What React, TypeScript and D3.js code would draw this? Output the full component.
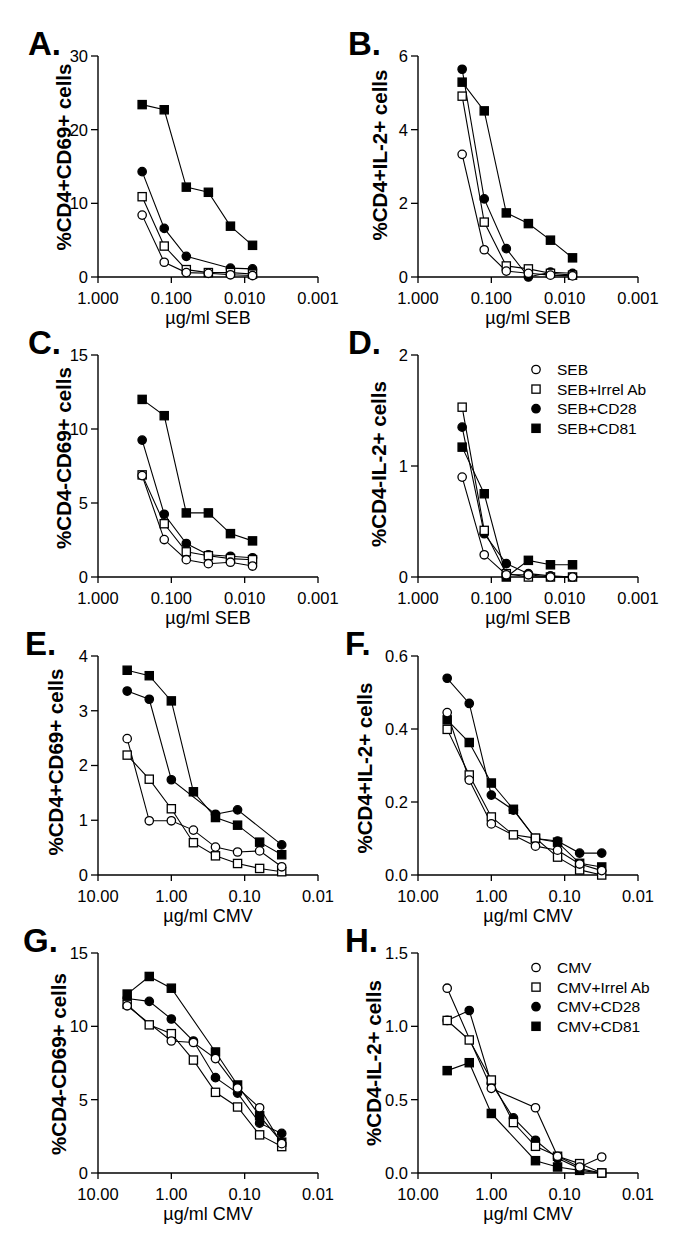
import React from "react";
import * as d3 from "d3";

// ---------- doses & ticks ----------
const SEB_DOSES = [0.25, 0.125, 0.0625, 0.03125, 0.015625, 0.0078125];
const CMV_DOSES = [4, 2, 1, 0.5, 0.25, 0.125, 0.0625, 0.03125];
const SEB_TICKS = [1, 0.1, 0.01, 0.001];
const SEB_TICK_LABELS = ["1.000", "0.100", "0.010", "0.001"];
const CMV_TICKS = [10, 1, 0.1, 0.01];
const CMV_TICK_LABELS = ["10.00", "1.00", "0.10", "0.01"];
const SEB_LEGEND = ["SEB", "SEB+Irrel Ab", "SEB+CD28", "SEB+CD81"];
const CMV_LEGEND = ["CMV", "CMV+Irrel Ab", "CMV+CD28", "CMV+CD81"];

// ---------- series values (order: base, Irrel Ab, CD28, CD81) ----------
const A_BASE = [8.4, 2.0, 0.6, 0.5, 0.3, 0.2];
const A_IRREL = [10.9, 4.2, 1.0, 0.6, 0.6, 0.4];
const A_CD28 = [14.3, 6.6, 2.8, null, 1.2, 1.1];
const A_CD81 = [23.4, 22.7, 12.2, 11.5, 6.9, 4.3];

const B_BASE = [3.33, 0.74, 0.16, 0.1, 0.05, 0.03];
const B_IRREL = [4.91, 1.49, 0.3, 0.22, 0.1, 0.05];
const B_CD28 = [5.64, 2.12, 0.77, 0.0, 0.13, 0.1];
const B_CD81 = [5.29, 4.51, 1.74, 1.45, 1.0, 0.52];

const C_BASE = [6.85, 2.53, 1.17, 0.9, 1.0, 0.74];
const C_IRREL = [6.9, 3.6, 1.7, 1.44, 1.24, 1.17];
const C_CD28 = [9.25, 4.24, 2.26, 1.5, 1.4, 1.3];
const C_CD81 = [12.0, 10.9, 4.33, 4.33, 2.93, 2.44];

const D_BASE = [0.9, 0.2, 0.02, 0.02, 0.0, 0.0];
const D_IRREL = [1.53, 0.42, 0.03, 0.0, 0.0, 0.0];
const D_CD28 = [1.35, 0.39, 0.12, 0.03, 0.01, 0.0];
const D_CD81 = [1.17, 0.75, 0.0, 0.15, 0.11, 0.11];

const E_BASE = [2.49, 0.99, 0.99, 0.82, 0.51, 0.42, 0.44, 0.15];
const E_IRREL = [2.19, 1.75, 1.21, 0.59, 0.35, 0.21, 0.12, 0.06];
const E_CD28 = [3.36, 3.21, 1.74, null, 1.11, 1.19, null, 0.55];
const E_CD81 = [3.74, 3.64, 3.18, 1.52, 1.05, 0.91, 0.6, 0.37];

const F_BASE = [0.445, 0.26, 0.14, null, 0.079, 0.068, 0.03, 0.012];
const F_IRREL = [0.399, 0.274, 0.159, 0.11, 0.101, 0.049, 0.014, 0.0];
const F_CD28 = [0.539, 0.47, 0.219, 0.178, 0.1, 0.093, 0.06, 0.06];
const F_CD81 = [0.425, 0.363, 0.252, 0.18, 0.1, 0.09, 0.032, 0.022];

const G_BASE = [11.4, null, 9.0, 8.9, 7.8, 5.8, 4.45, 2.0];
const G_IRREL = [11.5, 10.1, 9.5, 7.7, 5.5, 4.5, 2.6, 1.8];
const G_CD28 = [11.9, 11.7, 10.5, 9.0, 6.5, 5.45, 3.4, 2.7];
const G_CD81 = [12.2, 13.4, 12.6, null, 8.25, 6.0, 3.9, 2.1];

const H_BASE = [1.26, null, 0.577, null, 0.445, 0.114, 0.041, 0.109];
const H_IRREL = [1.04, 0.907, 0.634, 0.344, 0.182, 0.114, 0.064, 0.0];
const H_CD28 = [1.04, 1.108, 0.61, 0.376, 0.223, 0.1, 0.03, 0.0];
const H_CD81 = [0.698, 0.752, 0.406, null, 0.084, 0.041, 0.018, 0.0];

const FONT = "Arial, 'Liberation Sans', Helvetica, sans-serif";

type PanelDef = {
  letter: string;
  left: number;
  top: number;
  bottom: number;
  kind: "SEB" | "CMV";
  yMax: number;
  yTicks: number[];
  yFmt: (v: number) => string;
  yTitle: string;
  series: (number | null)[][];
  titleX: number;
  titleCY: number;
  letterX: number;
  legend?: boolean;
};

const f0 = d3.format("d");
const f1 = d3.format(".1f");

const PANELS: PanelDef[] = [
  { letter: "A.", left: 98, top: 56, bottom: 277, kind: "SEB", yMax: 30, yTicks: [0, 10, 20, 30], yFmt: f0, yTitle: "%CD4+CD69+ cells", series: [A_BASE, A_IRREL, A_CD28, A_CD81], titleX: 71, titleCY: 157, letterX: 28 },
  { letter: "B.", left: 418, top: 56, bottom: 277, kind: "SEB", yMax: 6, yTicks: [0, 2, 4, 6], yFmt: f0, yTitle: "%CD4+IL-2+ cells", series: [B_BASE, B_IRREL, B_CD28, B_CD81], titleX: 387, titleCY: 155, letterX: 348 },
  { letter: "C.", left: 98, top: 355, bottom: 577, kind: "SEB", yMax: 15, yTicks: [0, 5, 10, 15], yFmt: f0, yTitle: "%CD4-CD69+ cells", series: [C_BASE, C_IRREL, C_CD28, C_CD81], titleX: 71, titleCY: 458, letterX: 28 },
  { letter: "D.", left: 418, top: 355, bottom: 577, kind: "SEB", yMax: 2, yTicks: [0, 1, 2], yFmt: f0, yTitle: "%CD4-IL-2+ cells", series: [D_BASE, D_IRREL, D_CD28, D_CD81], titleX: 386, titleCY: 464, letterX: 348, legend: true },
  { letter: "E.", left: 98, top: 656, bottom: 875, kind: "CMV", yMax: 4, yTicks: [0, 1, 2, 3, 4], yFmt: f0, yTitle: "%CD4+CD69+ cells", series: [E_BASE, E_IRREL, E_CD28, E_CD81], titleX: 63, titleCY: 762, letterX: 25 },
  { letter: "F.", left: 418, top: 656, bottom: 875, kind: "CMV", yMax: 0.6, yTicks: [0, 0.2, 0.4, 0.6], yFmt: f1, yTitle: "%CD4+IL-2+ cells", series: [F_BASE, F_IRREL, F_CD28, F_CD81], titleX: 372, titleCY: 768, letterX: 345 },
  { letter: "G.", left: 98, top: 953, bottom: 1173, kind: "CMV", yMax: 15, yTicks: [0, 5, 10, 15], yFmt: f0, yTitle: "%CD4-CD69+ cells", series: [G_BASE, G_IRREL, G_CD28, G_CD81], titleX: 66, titleCY: 1064, letterX: 23 },
  { letter: "H.", left: 418, top: 953, bottom: 1173, kind: "CMV", yMax: 1.5, yTicks: [0, 0.5, 1.0, 1.5], yFmt: f1, yTitle: "%CD4-IL-2+ cells", series: [H_BASE, H_IRREL, H_CD28, H_CD81], titleX: 381, titleCY: 1063, letterX: 345, legend: true },
];

const AXIS_W = 220;

function Marker({ kind, cx, cy }: { kind: number; cx: number; cy: number }) {
  const filled = kind >= 2;
  const fill = filled ? "#000" : "#fff";
  if (kind === 0 || kind === 2) {
    return <circle cx={cx} cy={cy} r={4.2} fill={fill} stroke="#000" strokeWidth={1.3} />;
  }
  const s = 8.2;
  return <rect x={cx - s / 2} y={cy - s / 2} width={s} height={s} fill={fill} stroke="#000" strokeWidth={1.3} />;
}

function Panel({ p }: { p: PanelDef }) {
  const isSEB = p.kind === "SEB";
  const x = d3
    .scaleLog()
    .domain(isSEB ? [1, 0.001] : [10, 0.01])
    .range([p.left, p.left + AXIS_W]);
  const y = d3.scaleLinear().domain([0, p.yMax]).range([p.bottom, p.top]);
  const doses = isSEB ? SEB_DOSES : CMV_DOSES;
  const xTicks = isSEB ? SEB_TICKS : CMV_TICKS;
  const xLabels = isSEB ? SEB_TICK_LABELS : CMV_TICK_LABELS;
  const legend = isSEB ? SEB_LEGEND : CMV_LEGEND;

  const pts = p.series.map((vals) =>
    vals
      .map((v, i) => (v === null ? null : ([x(doses[i]), y(v)] as [number, number])))
      .filter((d): d is [number, number] => d !== null)
  );
  const line = d3.line<[number, number]>().x((d) => d[0]).y((d) => d[1]);
  const drawOrder = [3, 2, 1, 0];

  return (
    <g>
      <text x={p.letterX} y={p.top - 1} fontSize={33} fontWeight="bold" fontFamily={FONT}>
        {p.letter}
      </text>
      <line x1={p.left} x2={p.left} y1={p.bottom} y2={p.top} stroke="#000" strokeWidth={1.4} />
      {p.yTicks.map((t) => (
        <g key={"y" + t}>
          <line x1={p.left - 7} x2={p.left} y1={y(t)} y2={y(t)} stroke="#000" strokeWidth={1.3} />
          <text x={p.left - 10} y={y(t)} dy="0.36em" textAnchor="end" fontSize={16.5} fontFamily={FONT}>
            {p.yFmt(t)}
          </text>
        </g>
      ))}
      <line x1={p.left} x2={p.left + AXIS_W} y1={p.bottom} y2={p.bottom} stroke="#000" strokeWidth={1.4} />
      {xTicks.map((t, i) => (
        <g key={"x" + t}>
          <line x1={x(t)} x2={x(t)} y1={p.bottom} y2={p.bottom + 6} stroke="#000" strokeWidth={1.3} />
          <text x={x(t)} y={p.bottom + 27} textAnchor="middle" fontSize={16.5} fontFamily={FONT}>
            {xLabels[i]}
          </text>
        </g>
      ))}
      <text x={p.left + AXIS_W / 2} y={p.bottom + 47} textAnchor="middle" fontSize={18} fontFamily={FONT}>
        {isSEB ? "\u00B5g/ml SEB" : "\u00B5g/ml CMV"}
      </text>
      <text
        transform={`translate(${p.titleX},${p.titleCY}) rotate(-90)`}
        textAnchor="middle"
        fontSize={20.5}
        fontWeight="bold"
        fontFamily={FONT}
      >
        {p.yTitle}
      </text>
      {drawOrder.map((k) => (
        <path key={"l" + k} d={line(pts[k]) || ""} fill="none" stroke="#000" strokeWidth={1.1} />
      ))}
      {drawOrder.map((k) =>
        pts[k].map((d, i) => <Marker key={"m" + k + "-" + i} kind={k} cx={d[0]} cy={d[1]} />)
      )}
      {p.legend &&
        legend.map((name, i) => {
          const ly = p.top + 14.5 + i * 19.6;
          return (
            <g key={"lg" + i}>
              <Marker kind={i} cx={p.left + 118} cy={ly} />
              <text x={p.left + 139} y={ly} dy="0.36em" fontSize={15.5} fontFamily={FONT}>
                {name}
              </text>
            </g>
          );
        })}
    </g>
  );
}

export default function App() {
  return (
    <svg
      width={685}
      height={1245}
      viewBox="0 0 685 1245"
      style={{ position: "absolute", left: 0, top: 0, background: "#fff" }}
    >
      <rect x={0} y={0} width={685} height={1245} fill="#fff" />
      {PANELS.map((p) => (
        <Panel key={p.letter} p={p} />
      ))}
    </svg>
  );
}
